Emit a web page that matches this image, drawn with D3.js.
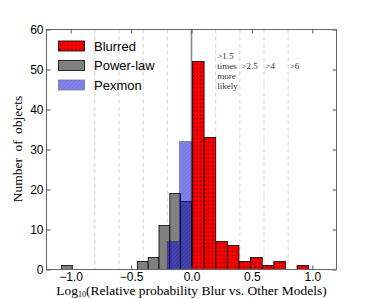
<!DOCTYPE html>
<html>
<head>
<meta charset="utf-8">
<script src="https://cdn.jsdelivr.net/npm/d3@7"></script>
<style>
body { margin: 0; background: #fff; }
.tick text { font-family: "Liberation Sans", Arial, sans-serif; font-size: 12px; fill: #000; }
</style>
</head>
<body>
<div id="chart"></div>
<script>
// histogram counts
var redCounts = [52, 33, 7, 6, 2, 3, 1, 2, 0, 1];
var redRange = [0.008, 0.97];
var grayCounts = [1, 0, 0, 0, 0, 0, 0, 2, 3, 11, 19, 17];
var grayRange = [-1.076, 0];
var blueCounts = [7, 32];
var blueRange = [-0.2, 0];

var xTicks = [-1.0, -0.5, 0.0, 0.5, 1.0];
var yTicks = [0, 10, 20, 30, 40, 50, 60];
var guideLines = [-0.8, -0.6, -0.4, -0.2, 0.2, 0.4, 0.6, 0.8];
var ratioLabels = [
	{x: 0.2, lines: [">1.5", "times", "more", "likely"]},
	{x: 0.4, lines: [">2.5"]},
	{x: 0.6, lines: [">4"]},
	{x: 0.8, lines: [">6"]}
];
var legendItems = [
	{name: "Blurred", fill: "url(#dots)", base: "red", op: 1},
	{name: "Power-law", fill: null, base: "#808080", op: 1},
	{name: "Pexmon", fill: "url(#hatch)", base: "#0000ff", op: 0.5}
];

function drawChart() {
	var W = 374, H = 299;
	var pLeft = 46.5, pRight = 336.5, pTop = 29.5, pBottom = 269.5;

	var svg = d3.select("#chart").append("svg").attr("width", W).attr("height", H);

	var defs = svg.append("defs");
	var dots = defs.append("pattern").attr("id", "dots").attr("patternUnits", "userSpaceOnUse")
		.attr("width", 3.9).attr("height", 3.9);
	dots.append("circle").attr("cx", 1.9).attr("cy", 1.9).attr("r", 0.65).style("fill", "#000");
	var hatch = defs.append("pattern").attr("id", "hatch").attr("patternUnits", "userSpaceOnUse")
		.attr("width", 4).attr("height", 4);
	hatch.append("path").attr("d", "M-1,1 l2,-2 M0,4 l4,-4 M3,5 l2,-2").style("stroke", "#000050").style("stroke-width", 1);

	var x = d3.scaleLinear().domain([-1.2, 1.2]).range([pLeft, pRight]);
	var y = d3.scaleLinear().domain([0, 60]).range([pBottom, pTop]);

	function bins(counts, range) {
		var w = (range[1] - range[0]) / counts.length;
		return counts.map(function(c, i) { return {x0: range[0] + i * w, x1: range[0] + (i + 1) * w, n: c}; })
			.filter(function(b) { return b.n > 0; });
	}

	// dashed guides (behind the bars)
	svg.selectAll("line.guide").data(guideLines).enter().append("line")
		.attr("x1", function(d) { return x(d); }).attr("x2", function(d) { return x(d); })
		.attr("y1", pTop).attr("y2", pBottom)
		.style("stroke", "#c8c8c8").style("stroke-width", 0.8).style("stroke-dasharray", "4,3");

	// zero line
	svg.append("line").attr("x1", x(0)).attr("x2", x(0)).attr("y1", pTop).attr("y2", pBottom)
		.style("stroke", "#888").style("stroke-width", 1.6);

	function drawHist(data, fillColor, pattern, op, edge) {
		var g = svg.append("g").style("opacity", op);
		g.selectAll("rect.base").data(data).enter().append("rect")
			.attr("x", function(d) { return x(d.x0); })
			.attr("width", function(d) { return x(d.x1) - x(d.x0); })
			.attr("y", function(d) { return y(d.n); })
			.attr("height", function(d) { return y(0) - y(d.n); })
			.style("fill", fillColor).style("stroke", edge).style("stroke-width", 0.8);
		if (pattern) {
			g.selectAll("rect.pat").data(data).enter().append("rect")
				.attr("x", function(d) { return x(d.x0); })
				.attr("width", function(d) { return x(d.x1) - x(d.x0); })
				.attr("y", function(d) { return y(d.n); })
				.attr("height", function(d) { return y(0) - y(d.n); })
				.style("fill", pattern).style("stroke", "none");
		}
	}

	drawHist(bins(redCounts, redRange), "red", "url(#dots)", 1, "#000");
	drawHist(bins(grayCounts, grayRange), "#808080", null, 1, "#000");
	drawHist(bins(blueCounts, blueRange), "#0000ff", "url(#hatch)", 0.5, "#000");

	// ratio annotations
	ratioLabels.forEach(function(r) {
		var t = svg.append("text").attr("x", x(r.x) + 1.5).attr("y", r.lines.length > 1 ? 58.5 : 68.5)
			.style("font-family", "'Liberation Serif', 'DejaVu Serif', serif").style("font-size", "9px").style("fill", "#333");
		r.lines.forEach(function(l, i) {
			t.append("tspan").attr("x", x(r.x) + 1.5).attr("dy", i === 0 ? 0 : 10).text(l);
		});
	});

	// axes
	var fmt = d3.format(".1f");
	svg.append("g").attr("transform", "translate(0," + pBottom + ")")
		.call(d3.axisBottom(x).tickValues(xTicks).tickFormat(fmt).tickSizeInner(-4).tickSizeOuter(0).tickPadding(3));
	svg.append("g").attr("transform", "translate(0," + pTop + ")")
		.call(d3.axisTop(x).tickValues(xTicks).tickFormat("").tickSizeInner(-4).tickSizeOuter(0));
	svg.append("g").attr("transform", "translate(" + pLeft + ",0)")
		.call(d3.axisLeft(y).tickValues(yTicks).tickSizeInner(-4).tickSizeOuter(0).tickPadding(3));
	svg.append("g").attr("transform", "translate(" + pRight + ",0)")
		.call(d3.axisRight(y).tickValues(yTicks).tickFormat("").tickSizeInner(-4).tickSizeOuter(0));
	svg.selectAll(".domain").remove();
	svg.selectAll(".tick line").style("stroke", "#555");

	svg.append("rect").attr("x", pLeft).attr("y", pTop).attr("width", pRight - pLeft).attr("height", pBottom - pTop)
		.style("fill", "none").style("stroke", "#666").style("stroke-width", 1);

	// legend
	var lg = svg.append("g");
	legendItems.forEach(function(it, i) {
		var yy = 41 + i * 19.5;
		var g = lg.append("g").style("opacity", it.op);
		g.append("rect").attr("x", 58.5).attr("y", yy).attr("width", 26).attr("height", 10)
			.style("fill", it.base).style("stroke", "#000").style("stroke-width", 0.8);
		if (it.fill) g.append("rect").attr("x", 58.5).attr("y", yy).attr("width", 26).attr("height", 10).style("fill", it.fill);
		lg.append("text").attr("x", 94).attr("y", yy + 9.5).text(it.name)
			.style("font-family", "'Liberation Sans', Arial, sans-serif").style("font-size", "13px");
	});

	// axis titles
	svg.append("text").attr("x", 191.5).attr("y", 295).attr("text-anchor", "middle")
		.style("font-family", "'Liberation Serif', serif").style("font-size", "13.5px")
		.html("Log<tspan font-size='8px' dy='2'>10</tspan><tspan dy='-2'>(Relative probability Blur vs. Other Models)</tspan>");
	svg.append("text").attr("transform", "translate(22,149) rotate(-90)").attr("text-anchor", "middle")
		.style("font-family", "'Liberation Serif', serif").style("font-size", "13.5px").style("word-spacing", "3px")
		.text("Number of objects");
}

drawChart();
</script>
</body>
</html>
